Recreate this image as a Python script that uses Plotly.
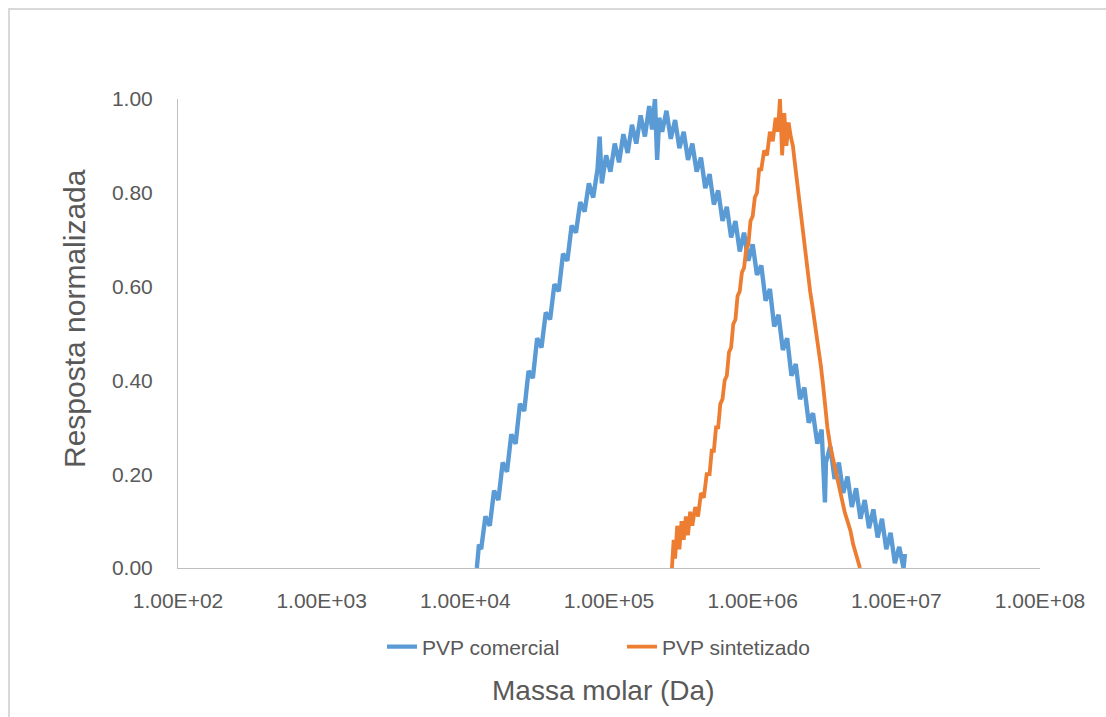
import numpy as np
import plotly.graph_objects as go

# log10 of molar mass (Da) and normalized response
log_mass_comercial = [
    4.080, 4.095, 4.110, 4.140, 4.170, 4.200, 4.230, 4.260, 4.290, 4.320,
    4.350, 4.380, 4.410, 4.440, 4.470, 4.500, 4.530, 4.560, 4.590, 4.620,
    4.650, 4.680, 4.710, 4.740, 4.770, 4.800, 4.830, 4.860, 4.890, 4.920,
    4.935, 4.950, 4.980, 5.010, 5.040, 5.070, 5.100, 5.130, 5.160, 5.190,
    5.220, 5.250, 5.280, 5.300, 5.320, 5.335, 5.350, 5.370, 5.400, 5.430,
    5.460, 5.490, 5.520, 5.550, 5.580, 5.610, 5.640, 5.670, 5.700, 5.730,
    5.760, 5.790, 5.820, 5.850, 5.880, 5.910, 5.940, 5.970, 6.000, 6.030,
    6.060, 6.090, 6.120, 6.150, 6.180, 6.210, 6.240, 6.270, 6.300, 6.330,
    6.360, 6.390, 6.420, 6.450, 6.480, 6.503, 6.510, 6.540, 6.570, 6.600,
    6.630, 6.660, 6.690, 6.720, 6.750, 6.780, 6.810, 6.840, 6.870, 6.900,
    6.930, 6.960, 6.990, 7.020, 7.050, 7.060,
]
resp_comercial = [
    0.000, 0.050, 0.040, 0.110, 0.090, 0.165, 0.145, 0.225, 0.205, 0.285,
    0.265, 0.350, 0.335, 0.420, 0.405, 0.490, 0.470, 0.545, 0.530, 0.605,
    0.590, 0.670, 0.655, 0.730, 0.715, 0.780, 0.760, 0.820, 0.790, 0.850,
    0.920, 0.820, 0.880, 0.845, 0.905, 0.865, 0.925, 0.885, 0.945, 0.905,
    0.965, 0.920, 0.985, 0.935, 1.000, 0.870, 0.960, 0.930, 0.975, 0.915,
    0.955, 0.895, 0.930, 0.870, 0.905, 0.845, 0.875, 0.810, 0.840, 0.775,
    0.805, 0.740, 0.770, 0.705, 0.740, 0.675, 0.715, 0.655, 0.690, 0.625,
    0.645, 0.570, 0.595, 0.515, 0.540, 0.465, 0.490, 0.410, 0.435, 0.360,
    0.385, 0.310, 0.330, 0.265, 0.295, 0.140, 0.225, 0.260, 0.190, 0.225,
    0.160, 0.195, 0.130, 0.170, 0.105, 0.145, 0.085, 0.125, 0.065, 0.105,
    0.040, 0.075, 0.010, 0.045, 0.000, 0.030, 0.000,
]

log_mass_sintetizado = [
    5.438, 5.450, 5.460, 5.475, 5.490, 5.505, 5.520, 5.535, 5.550, 5.565,
    5.580, 5.600, 5.620, 5.640, 5.660, 5.680, 5.700, 5.715, 5.730, 5.745,
    5.760, 5.775, 5.790, 5.805, 5.820, 5.835, 5.850, 5.865, 5.880, 5.895,
    5.910, 5.925, 5.940, 5.955, 5.970, 5.985, 6.000, 6.015, 6.030, 6.045,
    6.060, 6.080, 6.100, 6.120, 6.140, 6.160, 6.175, 6.190, 6.205, 6.220,
    6.235, 6.250, 6.265, 6.280, 6.295, 6.310, 6.325, 6.340, 6.355, 6.370,
    6.385, 6.400, 6.415, 6.430, 6.445, 6.460, 6.475, 6.490, 6.505, 6.520,
    6.540, 6.560, 6.580, 6.600, 6.620, 6.640, 6.660, 6.680, 6.700, 6.720,
    6.735, 6.747,
]
resp_sintetizado = [
    0.00, 0.06, 0.02, 0.09, 0.04, 0.10, 0.06, 0.11, 0.07, 0.12,
    0.09, 0.13, 0.11, 0.16, 0.15, 0.20, 0.20, 0.25, 0.25, 0.30,
    0.30, 0.35, 0.36, 0.40, 0.41, 0.46, 0.47, 0.52, 0.53, 0.58,
    0.59, 0.63, 0.64, 0.68, 0.69, 0.74, 0.75, 0.79, 0.80, 0.85,
    0.85, 0.89, 0.88, 0.93, 0.91, 0.96, 0.93, 1.00, 0.88, 0.97,
    0.90, 0.95, 0.92, 0.90, 0.86, 0.82, 0.78, 0.75, 0.70, 0.66,
    0.62, 0.59, 0.56, 0.53, 0.50, 0.46, 0.43, 0.39, 0.34, 0.30,
    0.26, 0.23, 0.20, 0.17, 0.15, 0.12, 0.10, 0.08, 0.05, 0.03,
    0.01, 0.00,
]

x_tick_vals = [1e2, 1e3, 1e4, 1e5, 1e6, 1e7, 1e8]
x_tick_text = ["1.00E+02", "1.00E+03", "1.00E+04", "1.00E+05",
               "1.00E+06", "1.00E+07", "1.00E+08"]
y_tick_vals = [0, 0.2, 0.4, 0.6, 0.8, 1.0]
y_tick_text = ["0.00", "0.20", "0.40", "0.60", "0.80", "1.00"]

FONT = "Liberation Sans, Arial, sans-serif"
TXT = "#595959"
AX = "#bfbfbf"

fig = go.Figure()
fig.add_trace(go.Scatter(
    x=10 ** np.array(log_mass_comercial), y=resp_comercial,
    mode="lines", name="PVP comercial",
    line=dict(color="#5B9BD5", width=4.4),
))
fig.add_trace(go.Scatter(
    x=10 ** np.array(log_mass_sintetizado), y=resp_sintetizado,
    mode="lines", name="PVP sintetizado",
    line=dict(color="#ED7D31", width=3.8),
))

L, R, T, B = 178, 66, 99, 149
W, H = 1106, 717
pw, ph = W - L - R, H - T - B

def px(xp):
    return (xp - L) / pw

def py(yp):
    return (H - B - yp) / ph

fig.update_layout(
    width=W, height=H,
    margin=dict(l=L, r=R, t=T, b=B, pad=0),
    paper_bgcolor="white", plot_bgcolor="white",
    font=dict(family=FONT, color=TXT),
    showlegend=True,
    legend=dict(
        orientation="h", x=px(382), xanchor="left", y=py(647), yanchor="middle",
        font=dict(size=21, color=TXT, family=FONT),
        bgcolor="rgba(0,0,0,0)", traceorder="normal",
        entrywidth=195, entrywidthmode="pixels",
    ),
    xaxis=dict(
        type="log", range=[2, 8], tickvals=x_tick_vals, ticktext=x_tick_text,
        showgrid=False, zeroline=False, showline=True, linecolor=AX, linewidth=1,
        ticks="", tickfont=dict(size=21, color=TXT, family=FONT),
        ticklabelstandoff=14,
    ),
    yaxis=dict(
        range=[0, 1], tickvals=y_tick_vals, ticktext=y_tick_text,
        showgrid=False, zeroline=False, showline=True, linecolor=AX, linewidth=1,
        ticks="", tickfont=dict(size=21, color=TXT, family=FONT),
        ticklabelstandoff=20,
    ),
    annotations=[
        dict(text="Massa molar (Da)", xref="paper", yref="paper",
             x=px(603), y=py(690), xanchor="center", yanchor="middle",
             showarrow=False, font=dict(size=28, color=TXT, family=FONT)),
        dict(text="Resposta normalizada", xref="paper", yref="paper",
             x=px(74), y=py(319), xanchor="center", yanchor="middle",
             textangle=-90, showarrow=False,
             font=dict(size=30, color=TXT, family=FONT)),
    ],
    shapes=[
        dict(type="rect", xref="paper", yref="paper",
             x0=px(9), x1=px(1120), y0=py(730), y1=py(9),
             line=dict(color="#d9d9d9", width=2), fillcolor="rgba(0,0,0,0)",
             layer="below"),
    ],
)

fig.write_html("out.html")
